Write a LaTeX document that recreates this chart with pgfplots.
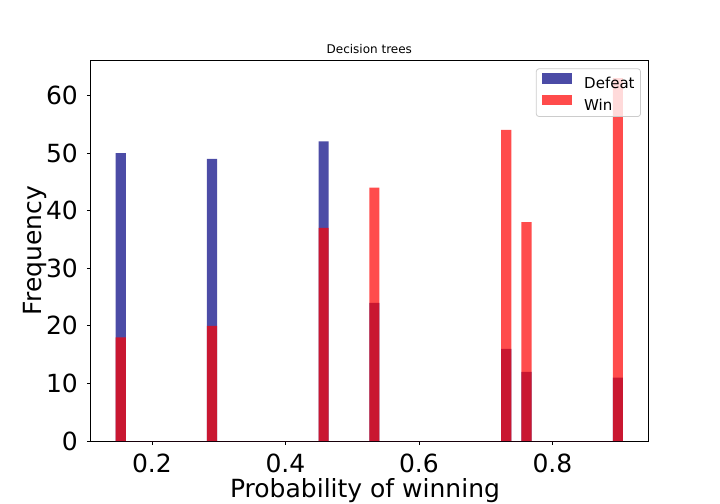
\documentclass[border=0pt]{standalone}
\usepackage{pgfplots}
\pgfplotsset{compat=1.18}
\usepackage{fontspec}
\setmainfont{DejaVu Sans}
\definecolor{mplnavy}{RGB}{0,0,128}
\definecolor{mplred}{RGB}{255,0,0}
\begin{document}
\begin{tikzpicture}
\begin{axis}[
  scale only axis,
  width=558bp, height=381bp,
  xmin=0.1076, xmax=0.9436,
  ymin=0, ymax=66.15,
  axis line style={black, line width=0.8bp},
  tick align=outside,
  major tick length=3.5bp,
  tick style={black, line width=0.8bp},
  xtick pos=left, ytick pos=left,
  xtick={0.2,0.4,0.6,0.8},
  ytick={0,10,20,30,40,50,60},
  /pgf/number format/assume math mode=true,
  /pgf/number format/fixed,
  /pgf/number format/precision=1,
  ticklabel style={font=\fontsize{25bp}{30bp}\selectfont, inner sep=0pt},
  xticklabel style={anchor=north, yshift=-9.7bp},
  yticklabel style={anchor=east, xshift=-8.7bp},
  xlabel={Probability of winning},
  ylabel={Frequency},
  label style={font=\fontsize{25bp}{30bp}\selectfont, inner sep=0pt},
  xlabel style={at={(axis description cs:0.4923,-0.0971)}, anchor=north},
  ylabel style={at={(axis description cs:-0.0785,0.5)}, anchor=south, rotate=0},
  title={Decision trees},
  title style={font=\fontsize{12bp}{14bp}\selectfont, at={(axis description cs:0.5,1)}, anchor=south, yshift=0.5bp, inner sep=0pt},
  legend style={at={(axis description cs:0.9869,0.9782)}, anchor=north east,
    draw=black!20, line width=0.8bp, fill=white, fill opacity=0.8, text opacity=1,
    rounded corners=3bp, font=\fontsize{15bp}{18bp}\selectfont,
    inner xsep=6bp, inner ysep=4.7bp, row sep=4.6bp,
    nodes={inner sep=0pt}},
  legend cell align=left,
  legend image code/.code={\fill[#1, sharp corners] (0bp,0bp) rectangle (30bp,10.5bp); \path (42bp,0bp);},
]
\addplot[ybar interval, fill=mplnavy, fill opacity=0.7, draw=none] table {
x y
0.1456 50
0.1608 0
0.2824 49
0.2976 0
0.4496 52
0.4648 0
0.5256 24
0.5408 0
0.7232 16
0.7384 0
0.7536 12
0.7688 0
0.8904 11
0.9056 0
};
\addlegendentry{Defeat}
\addplot[ybar interval, fill=mplred, fill opacity=0.7, draw=none] table {
x y
0.1456 18
0.1608 0
0.2824 20
0.2976 0
0.4496 37
0.4648 0
0.5256 44
0.5408 0
0.7232 54
0.7384 0
0.7536 38
0.7688 0
0.8904 63
0.9056 0
};
\addlegendentry{Win}
\coordinate (sw) at (rel axis cs:0,0);
\coordinate (ne) at (rel axis cs:1,1);
\end{axis}
\path[use as bounding box] ([shift={(-90.3bp,-63bp)}]sw) rectangle ([shift={(71.7bp,60bp)}]ne);
\end{tikzpicture}
\end{document}
